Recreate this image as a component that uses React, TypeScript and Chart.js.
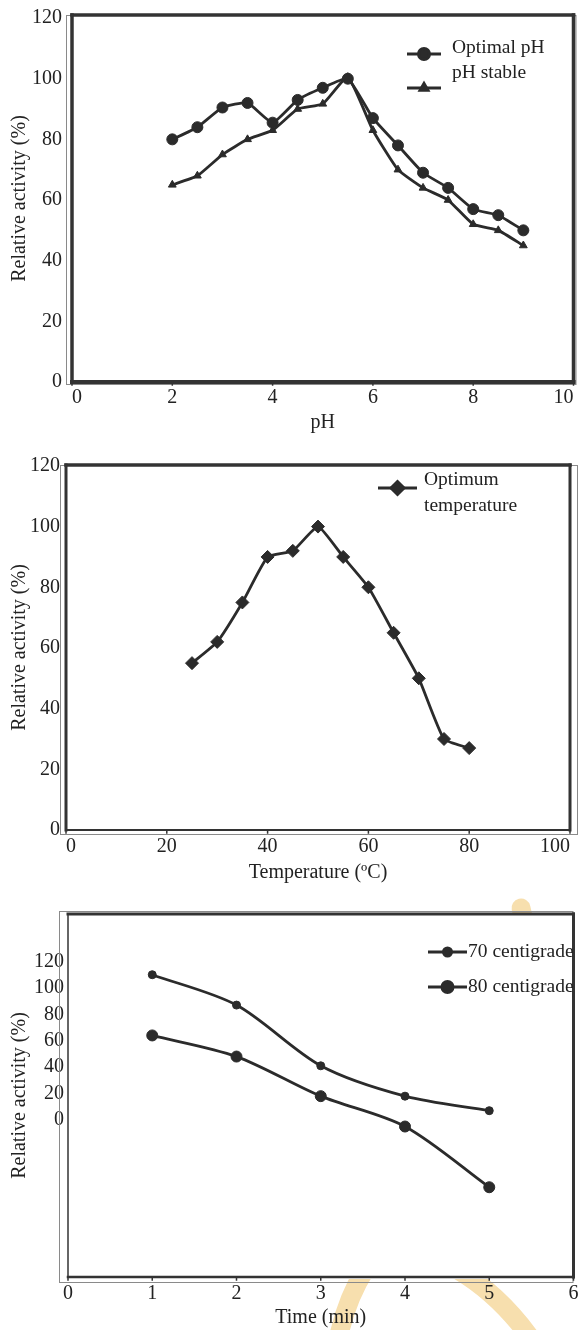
import React, { useEffect, useRef } from "react";
import { Chart, registerables } from "chart.js";
import { drawPoint } from "chart.js/helpers";

Chart.register(...registerables);

// ---------- data ----------
const phValues = [2, 2.5, 3, 3.5, 4, 4.5, 5, 5.5, 6, 6.5, 7, 7.5, 8, 8.5, 9];
const optimalPh = [80, 84, 90.5, 92, 85.5, 93, 97, 100, 87, 78, 69, 64, 57, 55, 50];
const phStable = [65, 68, 75, 80, 83, 90, 91.7, 100.5, 83, 70, 64, 60, 52, 50, 45];
const phXTicks = [0, 2, 4, 6, 8, 10];
const phYTicks = [0, 20, 40, 60, 80, 100, 120];

const tempValues = [25, 30, 35, 40, 45, 50, 55, 60, 65, 70, 75, 80];
const optimumTemp = [55, 62, 75, 90, 92, 100, 90, 80, 65, 50, 30, 27];
const tempXTicks = [0, 20, 40, 60, 80, 100];
const tempYTicks = [0, 20, 40, 60, 80, 100, 120];

const timeValues = [1, 2, 3, 4, 5];
const c70 = [110, 87, 41, 18, 7];
const c80 = [64, 48, 18, -5, -51];
const timeXTicks = [0, 1, 2, 3, 4, 5, 6];
const timeYTicks = [0, 20, 40, 60, 80, 100, 120];

// ---------- styles ----------
const FONT = "'Liberation Serif', 'Times New Roman', serif";
const FS = 20;
const LINE = "#2b2b2b";
const TEXT = "#222222";
const THIN = "#8a8a8a";

type LegendItem = {
  ds: number;
  lines: string[];
  sx1: number;
  sx2: number;
  sy: number;
  tx: number;
  ty: number;
};

type PanelSpec = {
  top: number;
  height: number;
  padding: { left: number; top: number; right: number; bottom: number };
  yWidth: number;
  xHeight: number;
  xPad: number;
  yPad: number;
  xAlign: string;
  frame: [number, number, number, number]; // top right bottom left
  outer: [number, number, number, number]; // offsets top right bottom left
  legend: LegendItem[];
  watermark?: boolean;
};

const framePlugin = {
  id: "framePlugin",
  beforeDraw(chart: any, _args: any, opts: any) {
    if (!opts || !opts.watermark) return;
    const { ctx, chartArea, width, height } = chart;
    ctx.save();
    ctx.beginPath();
    ctx.rect(0, 0, width, chartArea.top);
    ctx.rect(0, chartArea.bottom + 2, width, height - chartArea.bottom);
    ctx.clip();
    ctx.strokeStyle = "#f7dfae";
    ctx.lineWidth = 19;
    ctx.lineCap = "round";
    ctx.beginPath();
    ctx.moveTo(365, 380);
    ctx.quadraticCurveTo(346, 410, 338, 450);
    ctx.stroke();
    ctx.beginPath();
    ctx.moveTo(458, 380);
    ctx.quadraticCurveTo(500, 405, 532, 450);
    ctx.stroke();
    ctx.beginPath();
    ctx.moveTo(521, 18);
    ctx.lineTo(526, 40);
    ctx.stroke();
    ctx.restore();
  },
  afterDraw(chart: any, _args: any, opts: any) {
    const { ctx, chartArea } = chart;
    const { left, right, top, bottom } = chartArea;
    const [ft, fr, fb, fl] = opts.frame;
    const [ot, or, ob, ol] = opts.outer;
    ctx.save();
    // thin outer box
    ctx.strokeStyle = THIN;
    ctx.lineWidth = 1;
    ctx.strokeRect(left - ol + 0.5, top - ot + 0.5, right - left + ol + or - 1, bottom - top + ot + ob - 1);
    // thick frame
    ctx.strokeStyle = "#333333";
    ctx.lineCap = "square";
    const seg = (w: number, x1: number, y1: number, x2: number, y2: number) => {
      if (w <= 0) return;
      ctx.lineWidth = w;
      ctx.beginPath();
      ctx.moveTo(x1, y1);
      ctx.lineTo(x2, y2);
      ctx.stroke();
    };
    seg(ft, left, top, right, top);
    seg(fr, right, top, right, bottom);
    seg(fb, left, bottom, right, bottom);
    seg(fl, left, top, left, bottom);
    // small tick marks on the x axis
    const xs = chart.scales.x;
    xs.ticks.forEach((t: any) => {
      const px = xs.getPixelForValue(t.value);
      seg(1.5, px, bottom, px, bottom + 3);
    });
    ctx.restore();

    // legend
    ctx.save();
    ctx.font = `19.5px ${FONT}`;
    ctx.fillStyle = TEXT;
    ctx.textBaseline = "middle";
    ctx.textAlign = "left";
    (opts.legend as LegendItem[]).forEach((it) => {
      const ds = chart.data.datasets[it.ds];
      ctx.strokeStyle = LINE;
      ctx.lineWidth = 3;
      ctx.lineCap = "butt";
      ctx.beginPath();
      ctx.moveTo(it.sx1, it.sy);
      ctx.lineTo(it.sx2, it.sy);
      ctx.stroke();
      ctx.fillStyle = LINE;
      drawPoint(ctx, {
        pointStyle: ds.pointStyle,
        radius: ds.pointRadius,
        rotation: 0,
        borderWidth: 1,
      } as any, (it.sx1 + it.sx2) / 2, it.sy);
      ctx.fillStyle = TEXT;
      it.lines.forEach((ln, i) => ctx.fillText(ln, it.tx, it.ty + i * 26));
    });
    ctx.restore();
  },
};

function Panel(props: { spec: PanelSpec; build: () => any }) {
  const ref = useRef<HTMLCanvasElement | null>(null);
  const { spec, build } = props;
  useEffect(() => {
    if (!ref.current) return;
    const cfg = build();
    cfg.options.plugins.framePlugin = {
      frame: spec.frame,
      outer: spec.outer,
      legend: spec.legend,
      watermark: !!spec.watermark,
    };
    const chart = new Chart(ref.current, { ...cfg, plugins: [framePlugin] });
    return () => chart.destroy();
  }, []);
  return (
    <div style={{ position: "absolute", left: 0, top: spec.top, width: 580, height: spec.height }}>
      <canvas ref={ref} width={580} height={spec.height} style={{ display: "block" }} />
    </div>
  );
}

function baseOptions(
  spec: PanelSpec,
  xr: [number, number],
  yr: [number, number],
  xTicks: number[],
  yTicks: number[],
  xTitle: string
) {
  return {
    responsive: false,
    animation: false,
    devicePixelRatio: 1,
    layout: { padding: spec.padding },
    plugins: { legend: { display: false }, tooltip: { enabled: false } },
    scales: {
      x: {
        type: "linear",
        min: xr[0],
        max: xr[1],
        afterBuildTicks: (s: any) => {
          s.ticks = xTicks.map((v) => ({ value: v }));
        },
        afterFit: (s: any) => {
          s.height = spec.xHeight;
          s.paddingLeft = 0;
          s.paddingRight = 0;
        },
        grid: { display: false, drawTicks: false },
        border: { display: false },
        ticks: {
          padding: spec.xPad,
          color: TEXT,
          maxRotation: 0,
          autoSkip: false,
          align: spec.xAlign,
          font: { family: FONT, size: FS },
        },
        title: {
          display: true,
          text: xTitle,
          color: TEXT,
          padding: 0,
          font: { family: FONT, size: FS },
        },
      },
      y: {
        type: "linear",
        min: yr[0],
        max: yr[1],
        afterBuildTicks: (s: any) => {
          s.ticks = yTicks.map((v) => ({ value: v }));
        },
        afterFit: (s: any) => {
          s.width = spec.yWidth;
          s.paddingTop = 0;
          s.paddingBottom = 0;
        },
        grid: { display: false, drawTicks: false },
        border: { display: false },
        ticks: {
          padding: spec.yPad,
          color: TEXT,
          autoSkip: false,
          font: { family: FONT, size: FS },
        },
        title: {
          display: true,
          text: "Relative activity (%)",
          color: TEXT,
          padding: 0,
          font: { family: FONT, size: FS },
        },
      },
    },
  } as any;
}

const spec1: PanelSpec = {
  top: 0,
  height: 435,
  padding: { left: 8, top: 15, right: 5, bottom: 0 },
  yWidth: 64,
  xHeight: 53,
  xPad: 4,
  yPad: 10,
  xAlign: "inner",
  frame: [3.5, 3.5, 4, 3.5],
  outer: [0, 3, 3, 6],
  legend: [
    { ds: 0, lines: ["Optimal pH"], sx1: 407, sx2: 441, sy: 54, tx: 452, ty: 48 },
    { ds: 1, lines: ["pH stable"], sx1: 407, sx2: 441, sy: 88, tx: 452, ty: 73 },
  ],
};

const spec2: PanelSpec = {
  top: 440,
  height: 445,
  padding: { left: 8, top: 25, right: 10, bottom: 0 },
  yWidth: 58,
  xHeight: 55,
  xPad: 5,
  yPad: 6,
  xAlign: "inner",
  frame: [3.5, 3, 2, 3],
  outer: [0, 8, 5, 6],
  legend: [
    { ds: 0, lines: ["Optimum", "temperature"], sx1: 378, sx2: 417, sy: 48, tx: 424, ty: 40 },
  ],
};

const spec3: PanelSpec = {
  top: 890,
  height: 440,
  padding: { left: 8, top: 24, right: 2, bottom: 0 },
  yWidth: 60,
  xHeight: 53,
  xPad: 5,
  yPad: 4,
  xAlign: "center",
  frame: [3, 3, 2.5, 1.5],
  outer: [3, 0, 6, 9],
  legend: [
    { ds: 0, lines: ["70 centigrade"], sx1: 428, sx2: 467, sy: 62, tx: 468, ty: 62 },
    { ds: 1, lines: ["80 centigrade"], sx1: 428, sx2: 467, sy: 97, tx: 468, ty: 97 },
  ],
  watermark: true,
};

function lineDs(label: string, xs: number[], ys: number[], style: string, r: number, tension: number) {
  return {
    label,
    data: xs.map((x, i) => ({ x, y: ys[i] })),
    borderColor: LINE,
    backgroundColor: LINE,
    pointBackgroundColor: LINE,
    pointBorderColor: LINE,
    borderWidth: 2.8,
    pointStyle: style,
    pointRadius: r,
    pointBorderWidth: 1,
    tension,
    clip: false,
  };
}

export default function App() {
  return (
    <div style={{ position: "absolute", left: 0, top: 0, width: 580, height: 1330, background: "#fff" }}>
      <Panel
        spec={spec1}
        build={() => ({
          type: "line",
          data: {
            datasets: [
              lineDs("Optimal pH", phValues, optimalPh, "circle", 5.5, 0.15),
              lineDs("pH stable", phValues, phStable, "triangle", 4.5, 0.15),
            ],
          },
          options: baseOptions(spec1, [0, 10], [0, 121], phXTicks, phYTicks, "pH"),
        })}
      />
      <Panel
        spec={spec2}
        build={() => ({
          type: "line",
          data: {
            datasets: [lineDs("Optimum temperature", tempValues, optimumTemp, "rectRot", 6.5, 0.15)],
          },
          options: baseOptions(spec2, [0, 100], [0, 120.3], tempXTicks, tempYTicks, "Temperature (ºC)"),
        })}
      />
      <Panel
        spec={spec3}
        build={() => ({
          type: "line",
          data: {
            datasets: [
              lineDs("70 centigrade", timeValues, c70, "circle", 4, 0.3),
              lineDs("80 centigrade", timeValues, c80, "circle", 5.5, 0.3),
            ],
          },
          options: baseOptions(spec3, [0, 6], [-119, 156], timeXTicks, timeYTicks, "Time (min)"),
        })}
      />
    </div>
  );
}
